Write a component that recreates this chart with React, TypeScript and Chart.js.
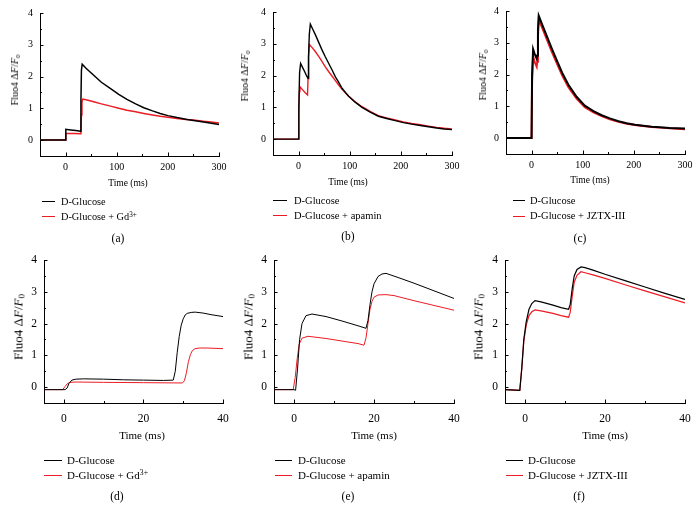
import React, { useEffect, useRef } from "react";
import { Chart, registerables } from "chart.js";
Chart.register(...registerables);

// ---------- DATA ----------
// Panel (a): D-Glucose vs D-Glucose + Gd3+ (0-300 ms)
const aBlackT = [-50, 0, 0.5, 10, 20, 29, 30, 31, 32.5, 40, 55, 70, 88, 104, 120, 137, 153, 170, 185, 200, 218, 235, 250, 270, 285, 300];
const aBlackV = [0, 0, 0.34, 0.32, 0.3, 0.28, 1.2, 2.2, 2.39, 2.26, 2.04, 1.82, 1.62, 1.44, 1.28, 1.14, 1.02, 0.92, 0.84, 0.77, 0.71, 0.66, 0.62, 0.57, 0.53, 0.49];
const aRedT = [-50, 0, 0.5, 15, 30, 31, 32, 33.7, 40, 55, 70, 88, 104, 120, 137, 153, 170, 185, 200, 218, 235, 250, 270, 285, 300];
const aRedV = [0, 0, 0.21, 0.21, 0.2, 0.8, 1.2, 1.29, 1.27, 1.21, 1.14, 1.07, 1.0, 0.94, 0.89, 0.84, 0.79, 0.75, 0.72, 0.68, 0.65, 0.63, 0.59, 0.57, 0.54];

// Panel (b): D-Glucose vs D-Glucose + apamin (0-300 ms)
const bBlackT = [-50, 0, 0.5, 2, 4, 8, 12, 16, 18.5, 19.5, 21, 23, 28, 33, 40, 46, 52, 59, 66, 72, 78, 85, 92, 98, 110, 124, 140, 156, 172, 189, 205, 221, 238, 254, 270, 285, 300];
const bBlackV = [0, 0, 1.0, 2.1, 2.38, 2.25, 2.12, 1.98, 1.91, 2.6, 3.3, 3.62, 3.45, 3.28, 3.02, 2.8, 2.6, 2.38, 2.16, 1.96, 1.8, 1.6, 1.46, 1.35, 1.17, 1.0, 0.85, 0.72, 0.65, 0.58, 0.52, 0.47, 0.43, 0.39, 0.35, 0.32, 0.3];
const bRedT = [-50, 0, 0.5, 1.5, 2.6, 8, 13, 17.5, 18.5, 19.5, 21, 27, 33, 40, 46, 52, 59, 66, 72, 78, 85, 92, 98, 110, 124, 140, 156, 172, 189, 205, 221, 238, 254, 270, 285, 300];
const bRedV = [0, 0, 0.8, 1.5, 1.65, 1.55, 1.46, 1.39, 1.9, 2.6, 2.98, 2.87, 2.75, 2.59, 2.44, 2.28, 2.12, 1.97, 1.84, 1.71, 1.57, 1.45, 1.35, 1.18, 1.02, 0.87, 0.74, 0.67, 0.6, 0.54, 0.49, 0.45, 0.41, 0.37, 0.34, 0.32];

// Panel (c): D-Glucose vs D-Glucose + JZTX-III (0-300 ms)
const cBlackT = [-50, -1, 0, 1, 3, 6, 10, 11, 12.5, 14, 20, 30, 40, 50, 60, 72, 88, 104, 121, 137, 153, 170, 186, 202, 218, 235, 251, 270, 300];
const cBlackV = [0, 0, 0.02, 2.0, 2.8, 2.65, 2.5, 2.6, 3.4, 3.85, 3.6, 3.2, 2.8, 2.42, 2.05, 1.68, 1.3, 1.02, 0.85, 0.72, 0.62, 0.53, 0.47, 0.42, 0.39, 0.36, 0.34, 0.32, 0.3];
const cRedT = [-50, -1, 0, 1, 3, 6, 10, 11, 12.5, 14, 20, 30, 40, 50, 60, 72, 88, 104, 121, 137, 153, 170, 186, 202, 218, 235, 251, 270, 300];
const cRedV = [0, 0, 0.02, 1.8, 2.57, 2.4, 2.25, 2.4, 3.2, 3.72, 3.5, 3.1, 2.7, 2.33, 1.97, 1.6, 1.24, 0.97, 0.81, 0.69, 0.59, 0.51, 0.45, 0.41, 0.38, 0.35, 0.33, 0.31, 0.28];

// Panel (d): Gd3+ (0-40 ms)
const dBlackT = [-5, 0.3, 0.8, 1.3, 2, 3, 5, 10, 15, 20, 25, 27.5, 28, 28.5, 29, 29.5, 30, 30.5, 31, 32, 33, 35, 37, 40];
const dBlackV = [-0.08, -0.08, -0.03, 0.12, 0.22, 0.25, 0.26, 0.25, 0.23, 0.22, 0.21, 0.22, 0.5, 1.1, 1.6, 1.95, 2.15, 2.27, 2.32, 2.35, 2.36, 2.33, 2.28, 2.22];
const dRedT = [-5, -0.3, 0.3, 0.8, 1.5, 3, 10, 20, 29.8, 30.3, 30.8, 31.3, 31.8, 32.3, 33, 34, 36, 40];
const dRedV = [-0.08, -0.08, 0.02, 0.1, 0.15, 0.16, 0.15, 0.14, 0.13, 0.2, 0.45, 0.8, 1.02, 1.15, 1.21, 1.23, 1.23, 1.21];

// Panel (e): apamin (0-40 ms)
const eBlackT = [-5, 0, 0.4, 0.9, 1.4, 2, 3, 4.5, 8, 12, 16, 18, 18.5, 19, 19.5, 20, 21, 22, 23, 26, 30, 35, 40];
const eBlackV = [-0.08, -0.08, -0.1, 0.6, 1.5, 2.0, 2.25, 2.3, 2.22, 2.08, 1.93, 1.85, 2.1, 2.6, 3.0, 3.25, 3.48, 3.56, 3.58, 3.45, 3.27, 3.03, 2.79];
const eRedT = [-5, -0.2, 0.3, 0.8, 1.3, 2, 3.5, 8, 12, 16, 17.5, 18, 18.5, 19, 19.5, 20, 21, 23, 25, 30, 35, 40];
const eRedV = [-0.08, -0.08, 0.3, 0.9, 1.35, 1.54, 1.6, 1.53, 1.45, 1.37, 1.32, 1.55, 2.0, 2.45, 2.7, 2.83, 2.9, 2.91, 2.88, 2.72, 2.57, 2.42];

// Panel (f): JZTX-III (0-40 ms)
const fBlackT = [-5, -1.3, -0.8, -0.3, 0.3, 1, 1.7, 2.5, 4, 7, 9, 10.9, 11.3, 11.8, 12.3, 13, 14, 15, 17, 20, 25, 30, 35, 40];
const fBlackV = [-0.08, -0.1, 0.6, 1.5, 2.05, 2.45, 2.63, 2.72, 2.68, 2.58, 2.5, 2.45, 2.6, 3.1, 3.5, 3.7, 3.78, 3.76, 3.68, 3.55, 3.35, 3.15, 2.95, 2.76];
const fRedT = [-5, -1.3, -0.8, -0.3, 0.3, 1, 1.7, 2.5, 4, 7, 9, 10.9, 11.3, 11.8, 12.3, 13, 14, 15, 17, 20, 25, 30, 35, 40];
const fRedV = [-0.08, -0.1, 0.6, 1.45, 1.95, 2.25, 2.37, 2.43, 2.4, 2.32, 2.25, 2.2, 2.35, 2.85, 3.3, 3.52, 3.63, 3.6, 3.53, 3.42, 3.22, 3.03, 2.84, 2.65];

// Tick values
const longXMajor = [0, 100, 200, 300];
const longXMinor = [50, 150, 250];
const shortXMajor = [0, 20, 40];
const shortXMinor = [10, 30];
const yMajor = [0, 1, 2, 3, 4];
const yMinor = [0.5, 1.5, 2.5, 3.5];

const blackName = "D-Glucose";
const RED = "#ec1c24";
const FONT = "'Liberation Serif', 'Times New Roman', serif";

type Panel = {
  L: number; R: number; T: number; B: number;
  xMin: number; xMax: number; xMajor: number[]; xMinor: number[];
  bt: number[]; bv: number[]; rt: number[]; rv: number[];
  lw: number; tickSize: number; tickPadX: number;
  xTitle: [number, number]; xTitleSize: number;
  yTitle: [number, number]; yTitleSize: number;
  leg: { x1: number; x2: number; tx: number; y1: number; y2: number; size: number };
  redLabel: React.ReactNode;
  label: string; labelPos: [number, number];
};

const gd = <span>D-Glucose + Gd<sup style={{ fontSize: "0.7em", verticalAlign: "0.45em", lineHeight: 0 }}>3+</sup></span>;

const panels: Panel[] = [
  { L: 40, R: 219, T: 13, B: 156, xMin: -50, xMax: 300, xMajor: longXMajor, xMinor: longXMinor,
    bt: aBlackT, bv: aBlackV, rt: aRedT, rv: aRedV, lw: 1.5, tickSize: 10, tickPadX: 5,
    xTitle: [128, 184], xTitleSize: 9.5, yTitle: [15, 80], yTitleSize: 10,
    leg: { x1: 42, x2: 55, tx: 61, y1: 201.5, y2: 216.5, size: 10.3 }, redLabel: gd, label: "(a)", labelPos: [118, 239] },
  { L: 273, R: 452, T: 12, B: 155, xMin: -50, xMax: 300, xMajor: longXMajor, xMinor: longXMinor,
    bt: bBlackT, bv: bBlackV, rt: bRedT, rv: bRedV, lw: 1.4, tickSize: 10, tickPadX: 5,
    xTitle: [348, 183], xTitleSize: 9.5, yTitle: [245, 76], yTitleSize: 10,
    leg: { x1: 273, x2: 287, tx: 294, y1: 200.5, y2: 215.5, size: 10.5 }, redLabel: "D-Glucose + apamin", label: "(b)", labelPos: [348, 237] },
  { L: 506, R: 685, T: 11, B: 154, xMin: -50, xMax: 300, xMajor: longXMajor, xMinor: longXMinor,
    bt: cBlackT, bv: cBlackV, rt: cRedT, rv: cRedV, lw: 2, tickSize: 10, tickPadX: 5,
    xTitle: [590, 181], xTitleSize: 9.5, yTitle: [483, 75], yTitleSize: 10,
    leg: { x1: 513, x2: 525, tx: 530, y1: 200.5, y2: 216, size: 10.5 }, redLabel: "D-Glucose + JZTX-III", label: "(c)", labelPos: [580, 239] },
  { L: 44, R: 223, T: 260, B: 403, xMin: -5, xMax: 40, xMajor: shortXMajor, xMinor: shortXMinor,
    bt: dBlackT, bv: dBlackV, rt: dRedT, rv: dRedV, lw: 1, tickSize: 11.5, tickPadX: 9,
    xTitle: [142, 435], xTitleSize: 11, yTitle: [18, 327], yTitleSize: 13,
    leg: { x1: 44, x2: 62, tx: 67, y1: 460, y2: 475, size: 11 }, redLabel: gd, label: "(d)", labelPos: [117, 497] },
  { L: 274, R: 454, T: 260, B: 403, xMin: -5, xMax: 40, xMajor: shortXMajor, xMinor: shortXMinor,
    bt: eBlackT, bv: eBlackV, rt: eRedT, rv: eRedV, lw: 1, tickSize: 11.5, tickPadX: 9,
    xTitle: [374, 435], xTitleSize: 11, yTitle: [248, 327], yTitleSize: 13,
    leg: { x1: 275, x2: 292, tx: 298, y1: 460, y2: 475, size: 11 }, redLabel: "D-Glucose + apamin", label: "(e)", labelPos: [348, 497] },
  { L: 505, R: 685, T: 260, B: 403, xMin: -5, xMax: 40, xMajor: shortXMajor, xMinor: shortXMinor,
    bt: fBlackT, bv: fBlackV, rt: fRedT, rv: fRedV, lw: 1.2, tickSize: 11.5, tickPadX: 9,
    xTitle: [605, 435], xTitleSize: 11, yTitle: [478, 327], yTitleSize: 13,
    leg: { x1: 506, x2: 523, tx: 528, y1: 460, y2: 475, size: 11 }, redLabel: "D-Glucose + JZTX-III", label: "(f)", labelPos: [579, 497] },
];

const PADL = 40, PADT = 8, PADR = 16, PADB = 30;

function zip(t: number[], v: number[]) {
  return t.map((x, i) => ({ x, y: v[i] }));
}

function zeroPad(axis: any) {
  axis.paddingTop = 0;
  axis.paddingBottom = 0;
  axis.paddingLeft = 0;
  axis.paddingRight = 0;
}

function PanelChart({ p }: { p: Panel }) {
  const ref = useRef<HTMLCanvasElement>(null);
  const cw = p.R - p.L + PADL + PADR;
  const ch = p.B - p.T + PADT + PADB;
  useEffect(() => {
    const tickPlugin = {
      id: "innerTicks",
      afterDraw(chart: any) {
        const ctx = chart.ctx;
        const xs = chart.scales.x, ys = chart.scales.y;
        const { left, bottom } = chart.chartArea;
        ctx.save();
        ctx.strokeStyle = "#000";
        ctx.lineWidth = 1;
        const hx = (v: number, len: number) => {
          const px = Math.round(xs.getPixelForValue(v)) + 0.5;
          ctx.beginPath(); ctx.moveTo(px, bottom); ctx.lineTo(px, bottom - len); ctx.stroke();
        };
        const hy = (v: number, len: number) => {
          const py = Math.round(ys.getPixelForValue(v)) + 0.5;
          ctx.beginPath(); ctx.moveTo(left, py); ctx.lineTo(left + len, py); ctx.stroke();
        };
        p.xMajor.forEach((v) => hx(v, 3.5));
        p.xMinor.forEach((v) => hx(v, 2));
        yMajor.forEach((v) => hy(v, 3.5));
        yMinor.forEach((v) => hy(v, 2));
        ctx.restore();
      },
    };
    const chart = new Chart(ref.current!, {
      type: "scatter",
      data: {
        datasets: [
          { data: zip(p.bt, p.bv), showLine: true, borderColor: "#000", borderWidth: p.lw, pointRadius: 0, tension: 0 },
          { data: zip(p.rt, p.rv), showLine: true, borderColor: RED, borderWidth: p.lw, pointRadius: 0, tension: 0 },
        ],
      },
      options: {
        animation: false,
        responsive: false,
        events: [],
        layout: { autoPadding: false, padding: { top: PADT, right: PADR, left: 0, bottom: 0 } },
        plugins: { legend: { display: false }, tooltip: { enabled: false } },
        scales: {
          x: {
            type: "linear", min: p.xMin, max: p.xMax,
            grid: { display: false, drawTicks: false },
            border: { display: true, color: "#000", width: 1 },
            afterBuildTicks: (axis: any) => { axis.ticks = p.xMajor.map((v) => ({ value: v })); },
            afterFit: (axis: any) => { axis.height = PADB; zeroPad(axis); },
            ticks: { autoSkip: false, maxRotation: 0, padding: p.tickPadX, color: "#000", font: { family: FONT, size: p.tickSize } },
          },
          y: {
            type: "linear", min: -0.5, max: 4,
            grid: { display: false, drawTicks: false },
            border: { display: true, color: "#000", width: 1 },
            afterBuildTicks: (axis: any) => { axis.ticks = yMajor.map((v) => ({ value: v })); },
            afterFit: (axis: any) => { axis.width = PADL; zeroPad(axis); },
            ticks: { autoSkip: false, padding: 7, color: "#000", font: { family: FONT, size: p.tickSize } },
          },
        },
      },
      plugins: [tickPlugin],
    } as any);
    return () => chart.destroy();
  }, []);
  const txt: React.CSSProperties = { position: "absolute", fontFamily: FONT, color: "#000", whiteSpace: "nowrap", lineHeight: 1 };
  return (
    <>
      <canvas ref={ref} width={cw} height={ch}
        style={{ position: "absolute", left: p.L - PADL, top: p.T - PADT, width: cw, height: ch }} />
      <div style={{ ...txt, left: p.yTitle[0], top: p.yTitle[1], fontSize: p.yTitleSize, transform: "translate(-50%,-50%) rotate(-90deg)" }}>
        Fluo4 Δ<i>F</i>/<i>F</i><sub style={{ fontSize: "0.7em", verticalAlign: "-0.25em", lineHeight: 0 }}>0</sub>
      </div>
      <div style={{ ...txt, left: p.xTitle[0], top: p.xTitle[1], fontSize: p.xTitleSize, transform: "translate(-50%,-50%)" }}>Time (ms)</div>
      <div style={{ position: "absolute", left: p.leg.x1, top: p.leg.y1 - 0.5, width: p.leg.x2 - p.leg.x1, height: 1, background: "#000" }} />
      <div style={{ position: "absolute", left: p.leg.x1, top: p.leg.y2 - 0.5, width: p.leg.x2 - p.leg.x1, height: 1, background: RED }} />
      <div style={{ ...txt, left: p.leg.tx, top: p.leg.y1, fontSize: p.leg.size, transform: "translateY(-50%)" }}>{blackName}</div>
      <div style={{ ...txt, left: p.leg.tx, top: p.leg.y2, fontSize: p.leg.size, transform: "translateY(-50%)" }}>{p.redLabel}</div>
      <div style={{ ...txt, left: p.labelPos[0], top: p.labelPos[1], fontSize: 11.5, transform: "translate(-50%,-50%)" }}>{p.label}</div>
    </>
  );
}

export default function App() {
  return (
    <div style={{ position: "fixed", left: 0, top: 0, width: 700, height: 519, background: "#fff", overflow: "hidden" }}>
      {panels.map((p, i) => <PanelChart key={i} p={p} />)}
    </div>
  );
}
